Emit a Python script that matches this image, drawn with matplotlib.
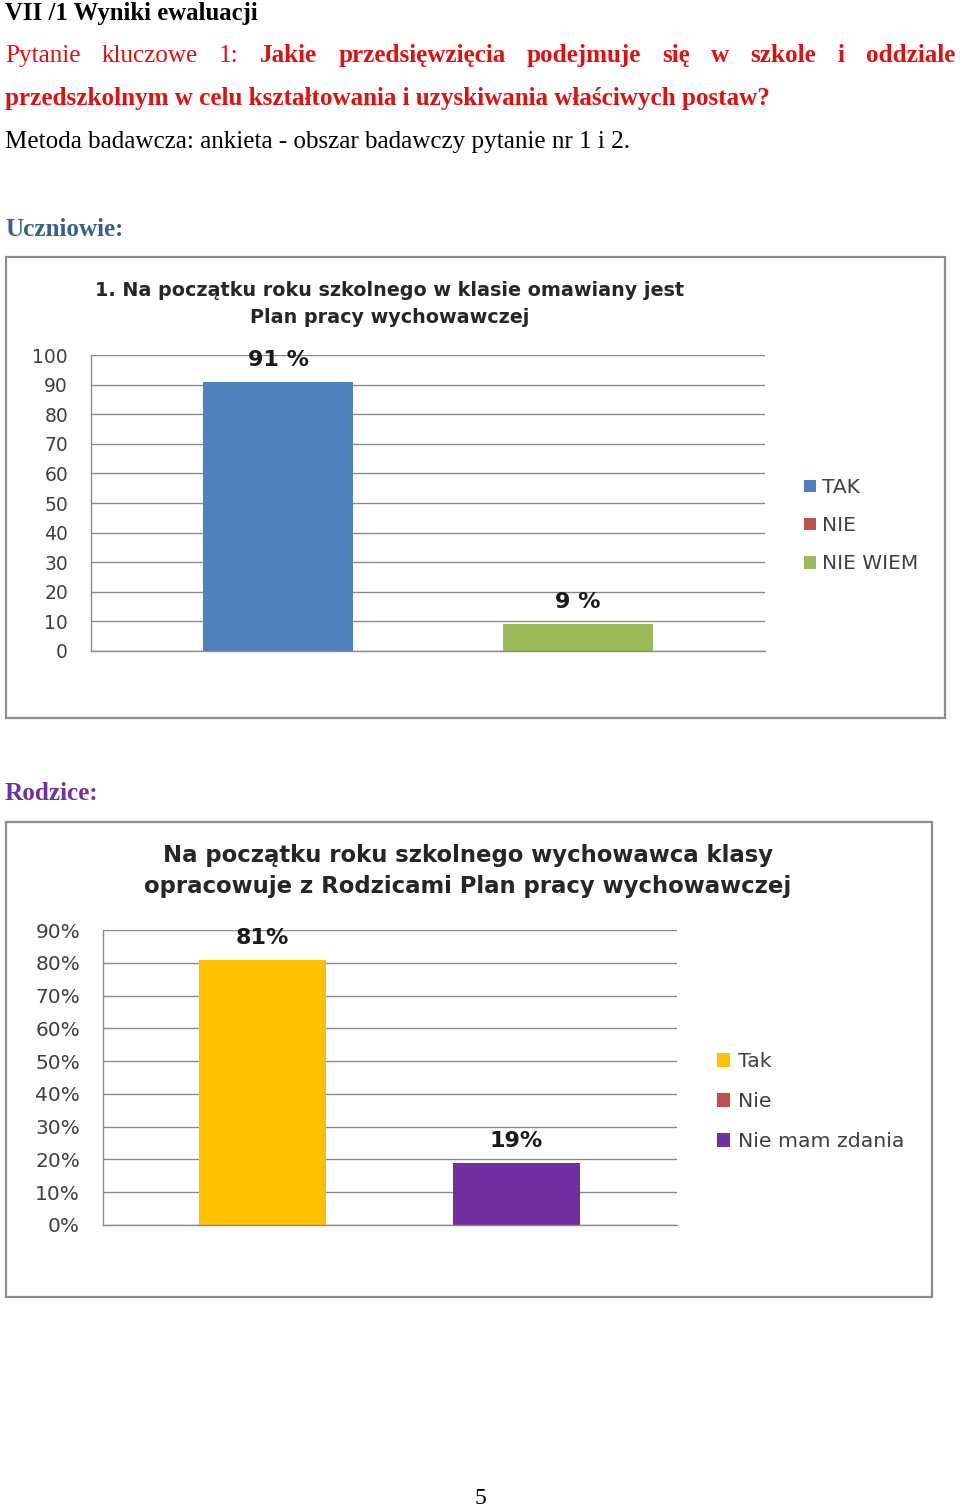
import matplotlib
matplotlib.use("Agg")
import matplotlib.pyplot as plt
from matplotlib.patches import Rectangle, Patch

# ---------------- data ----------------
c1_series = ["TAK", "NIE", "NIE WIEM"]
c1_values = [91, 0, 9]
c1_labels = ["91 %", "", "9 %"]
c1_ticks = [0, 10, 20, 30, 40, 50, 60, 70, 80, 90, 100]
c1_colors = ["#4f81bd", "#c0504d", "#9bbb59"]

c2_series = ["Tak", "Nie", "Nie mam zdania"]
c2_values = [0.81, 0.0, 0.19]
c2_labels = ["81%", "", "19%"]
c2_ticks = [0.0, 0.1, 0.2, 0.3, 0.4, 0.5, 0.6, 0.7, 0.8, 0.9]
c2_tick_labels = ["0%", "10%", "20%", "30%", "40%", "50%", "60%", "70%", "80%", "90%"]
c2_colors = ["#ffc000", "#c0504d", "#7030a0"]

W, H = 960, 1507
fig = plt.figure(figsize=(W / 100, H / 100), dpi=100)
fig.patch.set_facecolor("white")

def fx(x):
    return x / W

def fy(y):
    return 1 - y / H

SERIF = "Liberation Serif"
SANS = "DejaVu Sans"
RED = "#e01010"
HS = 18.1

# ---------------- header text ----------------
fig.text(fx(5), fy(20), "VII /1 Wyniki ewaluacji", family=SERIF, weight="bold",
         fontsize=17.8, color="black", ha="left", va="baseline")

words = [("Pytanie", "normal"), ("kluczowe", "normal"), ("1:", "normal"),
         ("Jakie", "bold"), ("przedsięwzięcia", "bold"), ("podejmuje", "bold"),
         ("się", "bold"), ("w", "bold"), ("szkole", "bold"), ("i", "bold"),
         ("oddziale", "bold")]
renderer = fig.canvas.get_renderer()
txts = []
widths = []
for w, wt in words:
    t = fig.text(0, fy(62), w, family=SERIF, weight=wt, fontsize=HS,
                 color=RED, ha="left", va="baseline")
    txts.append(t)
    widths.append(t.get_window_extent(renderer).width)
left, right = 5, 955
gap = (right - left - sum(widths)) / (len(words) - 1)
x = left
for t, wd in zip(txts, widths):
    t.set_x(fx(x))
    x += wd + gap

fig.text(fx(5), fy(105), "przedszkolnym w celu kształtowania i uzyskiwania właściwych postaw?",
         family=SERIF, weight="bold", fontsize=HS, color=RED, ha="left", va="baseline")
fig.text(fx(5), fy(148), "Metoda badawcza: ankieta - obszar badawczy pytanie nr 1 i 2.",
         family=SERIF, fontsize=HS, color="black", ha="left", va="baseline")
fig.text(fx(5), fy(236), "Uczniowie:", family=SERIF, weight="bold", fontsize=HS,
         color="#365f91", ha="left", va="baseline")
fig.text(fx(5), fy(800), "Rodzice:", family=SERIF, weight="bold", fontsize=HS,
         color="#7030a0", ha="left", va="baseline")
fig.text(fx(480), fy(1504), "5", family=SERIF, fontsize=17, color="black",
         ha="center", va="baseline")

# ---------------- chart frames ----------------
for (x0, y0, x1, y1) in [(6, 257, 945, 718), (6, 822, 932, 1297)]:
    fig.add_artist(Rectangle((fx(x0), fy(y1)), fx(x1 - x0), (y1 - y0) / H,
                             transform=fig.transFigure, facecolor="white",
                             edgecolor="#8c8c8c", linewidth=1.6, zorder=0))

GRID = "#8a8a8a"
TICKC = "#404040"

def style_axes(ax):
    ax.set_facecolor("none")
    for s in ["top", "right"]:
        ax.spines[s].set_visible(False)
    for s in ["left", "bottom"]:
        ax.spines[s].set_color(GRID)
        ax.spines[s].set_linewidth(1.0)
    ax.yaxis.grid(True, color=GRID, linewidth=1.0)
    ax.set_axisbelow(True)
    ax.tick_params(axis="y", length=0, colors=TICKC)
    ax.tick_params(axis="x", length=0, labelbottom=False)

# ---------------- chart 1 ----------------
ax1 = fig.add_axes([fx(91), fy(651), fx(765 - 91), 296 / H])
style_axes(ax1)
for i, (s, v, c, lab) in enumerate(zip(c1_series, c1_values, c1_colors, c1_labels)):
    ax1.bar(i, v, width=1.0, color=c, label=s, zorder=2)
    if lab:
        ax1.annotate(lab, (i, v), xytext=(0, 11.5), textcoords="offset points",
                     ha="center", va="baseline", family=SANS, weight="bold",
                     fontsize=16, color="#1a1a1a")
ax1.set_ylim(0, 100)
ax1.set_xlim(-0.5 - 112 / 150, 2.5 + 112 / 150)
ax1.set_yticks(c1_ticks)
ax1.set_yticklabels([str(t) for t in c1_ticks], family=SANS, fontsize=13.5)
ax1.tick_params(axis="y", pad=16.5)
fig.text(fx(390), fy(296), "1. Na początku roku szkolnego w klasie omawiany jest",
         family=SANS, weight="bold", fontsize=13.8, color="#262626",
         ha="center", va="baseline")
fig.text(fx(390), fy(323), "Plan pracy wychowawczej",
         family=SANS, weight="bold", fontsize=13.8, color="#262626",
         ha="center", va="baseline")
h1 = [Patch(facecolor=c) for c in c1_colors]
fig.legend(h1, c1_series, loc="upper left", bbox_to_anchor=(fx(804), fy(478)),
           frameon=False, prop={"family": SANS, "size": 14.5},
           handlelength=0.6, handleheight=0.6, handletextpad=0.3,
           labelspacing=0.95, borderaxespad=0, borderpad=0, labelcolor=TICKC)

# ---------------- chart 2 ----------------
ax2 = fig.add_axes([fx(103), fy(1225), fx(677 - 103), 295 / H])
style_axes(ax2)
for i, (s, v, c, lab) in enumerate(zip(c2_series, c2_values, c2_colors, c2_labels)):
    ax2.bar(i, v, width=1.0, color=c, label=s, zorder=2)
    if lab:
        ax2.annotate(lab, (i, v), xytext=(0, 11), textcoords="offset points",
                     ha="center", va="baseline", family=SANS, weight="bold",
                     fontsize=16, color="#1a1a1a")
ax2.set_ylim(0, 0.9)
ax2.set_xlim(-0.5 - 96 / 127, 2.5 + 97 / 127)
ax2.set_yticks(c2_ticks)
ax2.set_yticklabels(c2_tick_labels, family=SANS, fontsize=14.5)
ax2.tick_params(axis="y", pad=16.5)
fig.text(fx(468), fy(862), "Na początku roku szkolnego wychowawca klasy",
         family=SANS, weight="bold", fontsize=16.4, color="#262626",
         ha="center", va="baseline")
fig.text(fx(468), fy(893), "opracowuje z Rodzicami Plan pracy wychowawczej",
         family=SANS, weight="bold", fontsize=16.4, color="#262626",
         ha="center", va="baseline")
h2 = [Patch(facecolor=c) for c in c2_colors]
fig.legend(h2, c2_series, loc="upper left", bbox_to_anchor=(fx(717), fy(1052)),
           frameon=False, prop={"family": SANS, "size": 14.7},
           handlelength=0.65, handleheight=0.65, handletextpad=0.38,
           labelspacing=1.04, borderaxespad=0, borderpad=0, labelcolor=TICKC)

fig.savefig("out.png", dpi=100, facecolor="white")
